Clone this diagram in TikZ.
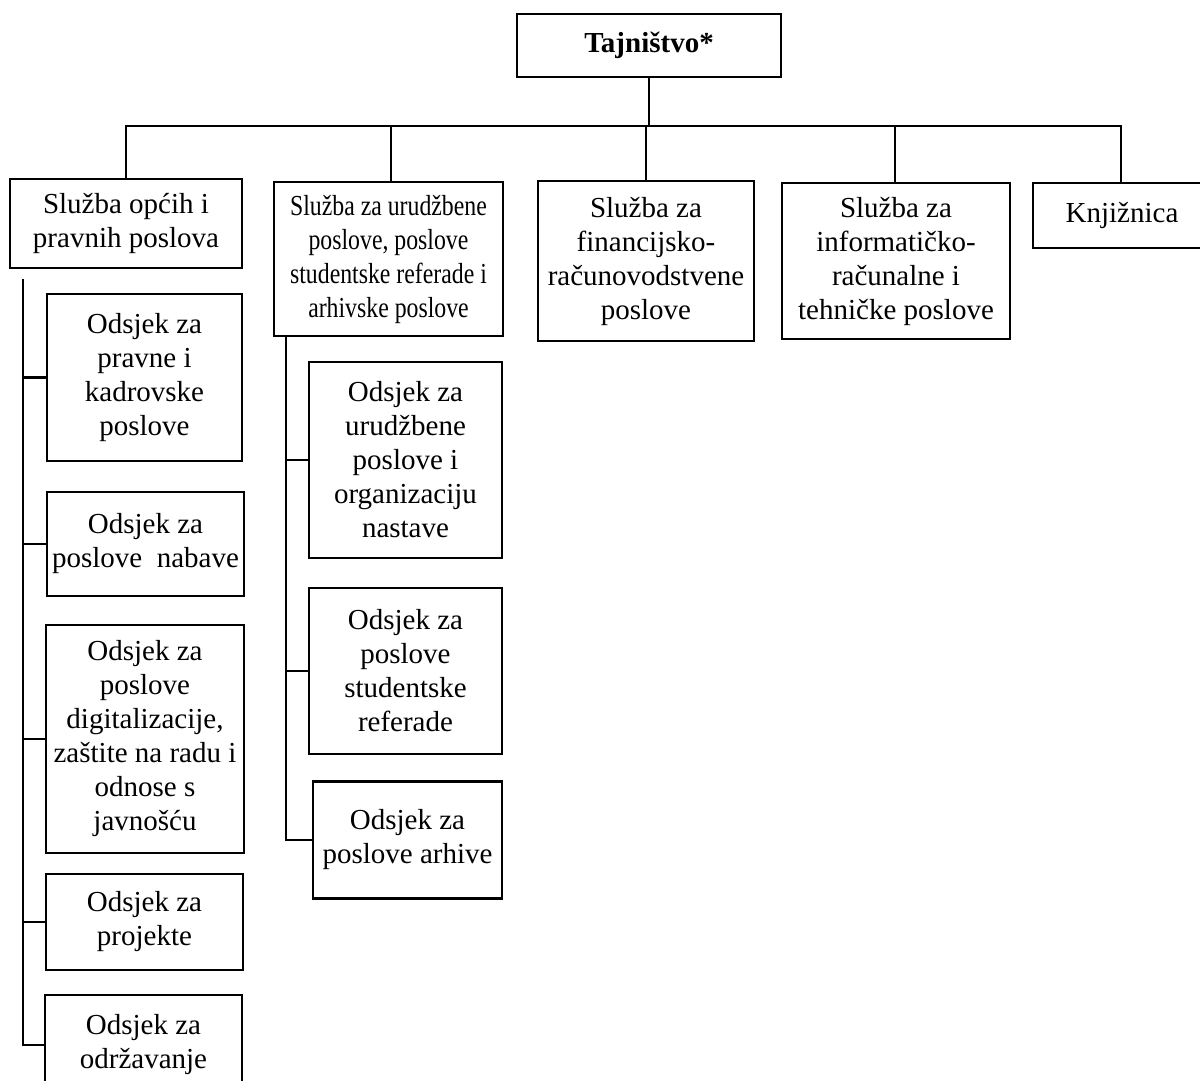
\documentclass[tikz,border=0pt]{standalone}
\usepackage{fontspec}
\setmainfont{Liberation Serif}
\newfontfamily\condfont{Liberation Serif}[FakeStretch=0.82]
\begin{document}
\begin{tikzpicture}[x=1pt,y=-1pt,
  box/.style={draw, line width=2.3pt, align=center, inner sep=0pt,
    font=\fontsize{29}{34}\selectfont},
  link/.style={line width=2.3pt}]
\clip (0,0) rectangle (1200,1081);
\fill[white] (0,0) rectangle (1200,1081);
% top
\node[box, minimum width=264, minimum height=63, font=\fontsize{29}{34}\selectfont\bfseries] (T) at (649,45.5) {Tajništvo*};
% level 2
\node[box, minimum width=232, minimum height=89] (A) at (126,223.5) {Služba općih i\\pravnih poslova};
\node[box, minimum width=229, minimum height=154, font=\fontsize{29}{34}\condfont] (B) at (388.5,259) {Služba za urudžbene\\poslove, poslove\\studentske referade i\\arhivske poslove};
\node[box, minimum width=216, minimum height=160] (C) at (646,261) {Služba za\\financijsko-\\računovodstvene\\poslove};
\node[box, minimum width=228, minimum height=156] (D) at (896,261) {Služba za\\informatičko-\\računalne i\\tehničke poslove};
\node[box, minimum width=178, minimum height=65] (E) at (1122,215.5) {Knjižnica};
% left children
\node[box, minimum width=195, minimum height=167] (A1) at (144.5,377.5) {Odsjek za\\pravne i\\kadrovske\\poslove};
\node[box, minimum width=197, minimum height=104] (A2) at (145.5,544) {Odsjek za\\poslove~~nabave};
\node[box, minimum width=198, minimum height=228] (A3) at (145,739) {Odsjek za\\poslove\\digitalizacije,\\zaštite na radu i\\odnose s\\javnošću};
\node[box, minimum width=197, minimum height=96] (A4) at (144.5,922) {Odsjek za\\projekte};
\node[box, minimum width=197, minimum height=100] (A5) at (143.5,1045) {Odsjek za\\održavanje};
% right children
\node[box, minimum width=193, minimum height=196] (B1) at (405.5,460) {Odsjek za\\urudžbene\\poslove i\\organizaciju\\nastave};
\node[box, minimum width=193, minimum height=166] (B2) at (405.5,671) {Odsjek za\\poslove\\studentske\\referade};
\node[box, minimum width=189, minimum height=117] (B3) at (407.5,840) {Odsjek za\\poslove arhive};
% connectors top
\coordinate (bar) at (0,126);
\draw[link] (T.south) -- (T.south |- bar);
\draw[link] (A.north) -- (A.north |- bar) -- ([xshift=-1pt]E.north |- bar) -- ([xshift=-1pt]E.north);
\draw[link] ([xshift=2.5pt]B.north) -- ([xshift=2.5pt]B.north |- bar);
\draw[link] (C.north) -- (C.north |- bar);
\draw[link] ([xshift=-1pt]D.north) -- ([xshift=-1pt]D.north |- bar);
% left column
\coordinate (L) at (23,279);
\draw[link] (L) |- (A5.west);
\draw[link] (L |- A1.west) -- (A1.west);
\draw[link] (L |- A2.west) -- (A2.west);
\draw[link] (L |- A3.west) -- (A3.west);
\draw[link] (L |- A4.west) -- (A4.west);
% right column
\coordinate (R) at ([xshift=13pt]B.south west);
\draw[link] (R) |- (B3.west);
\draw[link] (R |- B1.west) -- (B1.west);
\draw[link] (R |- B2.west) -- (B2.west);
\end{tikzpicture}
\end{document}
